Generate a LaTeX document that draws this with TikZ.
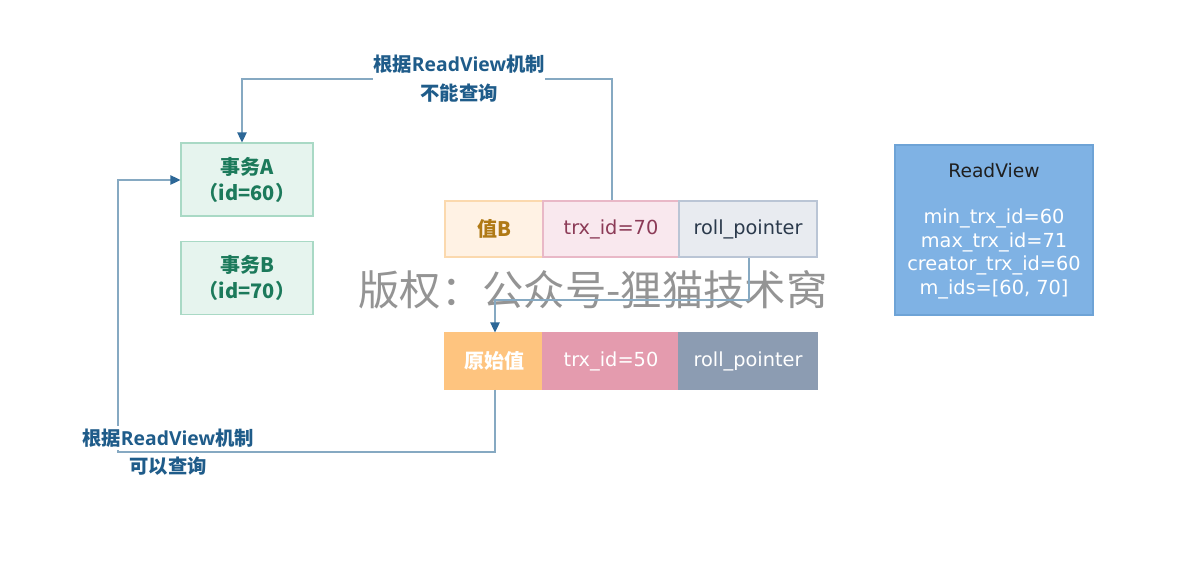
\documentclass[tikz,border=0pt]{standalone}
\usepackage{fontspec}
\setmainfont{DejaVu Sans}
\newfontfamily\osans{Open Sans}
\newfontfamily\cjk{Noto Sans CJK SC}
\usetikzlibrary{arrows.meta}
\definecolor{grnfill}{HTML}{E6F4EE}
\definecolor{grnline}{HTML}{A9D9C5}
\definecolor{grntext}{HTML}{1C7A5B}
\definecolor{orfill}{HTML}{FFF2E4}
\definecolor{orline}{HTML}{FBD9AE}
\definecolor{ortext}{HTML}{B07A16}
\definecolor{pkfill}{HTML}{F9E8EE}
\definecolor{pkline}{HTML}{E9B8C7}
\definecolor{pktext}{HTML}{8C3B57}
\definecolor{gyfill}{HTML}{E8EBF0}
\definecolor{gyline}{HTML}{BAC5D5}
\definecolor{gytext}{HTML}{2B3A4C}
\definecolor{or2}{HTML}{FEC47F}
\definecolor{pk2}{HTML}{E49BAE}
\definecolor{gy2}{HTML}{8C9CB2}
\definecolor{rvfill}{HTML}{7FB2E4}
\definecolor{rvline}{HTML}{6EA3D6}
\definecolor{conn}{HTML}{86A9C2}
\definecolor{tip}{HTML}{2C6797}
\definecolor{lbl}{HTML}{1F5C8A}
\tikzset{
  box/.style={draw, line width=0.8pt, minimum height=0.75pt*56, inner sep=0pt, font=\fontsize{14.5}{16}\selectfont},
  cjkbox/.style={font=\cjk\bfseries\fontsize{15}{16}\selectfont},
  txbox/.style={draw=grnline, fill=grnfill, line width=0.8pt, minimum width=0.75pt*132, minimum height=0.75pt*73, inner sep=0pt, align=center, text=grntext, font=\cjk\bfseries\fontsize{15}{19.5}\selectfont},
  conline/.style={draw=conn, line width=1pt, -{Triangle[length=7.5pt,width=7pt,fill=tip,color=tip]}},
  lbltext/.style={text=lbl, font=\cjk\bfseries\fontsize{14.5}{16}\selectfont, fill=white, inner xsep=0pt, inner ysep=2pt}
}
\newcommand{\rvlat}[1]{{\osans\bfseries #1}}
\begin{document}
\begin{tikzpicture}[x=0.75pt,y=-0.75pt]
\useasboundingbox (0,0) rectangle (1196,578);
\fill[white] (0,0) rectangle (1196,578);
% watermark
\node[text=black!42, font=\cjk\fontsize{31}{36}\selectfont, inner sep=0pt] (wm) at (593,290) {版权：公众号-狸猫技术窝};
% transaction boxes
\node[txbox] (ta) at (247,179.5) {事务A\\（id=60）};
\node[txbox] (tb) at (247,278) {事务B\\（id=70）};
% row 1
\node[box, cjkbox, draw=orline, fill=orfill, text=ortext, minimum width=0.75pt*98] (vb) at (494,229) {值B};
\node[box, draw=pkline, fill=pkfill, text=pktext, minimum width=0.75pt*136] (t70) at (611,229) {trx\_id=70};
\node[box, draw=gyline, fill=gyfill, text=gytext, minimum width=0.75pt*138] (rp1) at (748,229) {roll\_pointer};
% row 2
\node[box, cjkbox, draw=or2, fill=or2, text=white, minimum width=0.75pt*98] (orig) at (494,361) {原始值};
\node[box, draw=pk2, fill=pk2, text=white, minimum width=0.75pt*136] (t50) at (611,361) {trx\_id=50};
\node[box, draw=gy2, fill=gy2, text=white, minimum width=0.75pt*138] (rp2) at (748,361) {roll\_pointer};
% ReadView
\node[draw=rvline, fill=rvfill, line width=0.8pt, minimum width=0.75pt*198, minimum height=0.75pt*170, inner sep=0pt] (rv) at (994,230) {};
\node[font=\fontsize{14}{16}\selectfont, text=black!88] (rvt) at (994,171) {ReadView};
\node[font=\fontsize{14.5}{17.8}\selectfont, text=white, align=center] (rvb) at (994,254) {min\_trx\_id=60\\max\_trx\_id=71\\creator\_trx\_id=60\\m\_ids=[60, 70]};
% connectors
\coordinate (c1) at (612,79);
\coordinate (c2) at (242,79);
\draw[conline] (t70.north -| c1) -- (c1) -- (c2) -- (c2 |- ta.north);
\node[lbltext, inner ysep=5pt] (l1a) at (459,64) {根据\rvlat{ReadView}机制};
\node[lbltext, fill=none] (l1b) at (459,93) {不能查询};
\coordinate (c3) at (749,300);
\coordinate (c4) at (495,300);
\draw[conline] (rp1.south -| c3) -- (c3) -- (c4) -- (c4 |- orig.north);
\coordinate (c5) at (495,452);
\coordinate (c6) at (118,452);
\coordinate (c7) at (118,180);
\draw[conline] (orig.south -| c5) -- (c5) -- (c6) -- (c7) -- (ta.west |- c7);
\node[lbltext] (l2a) at (168,438) {根据\rvlat{ReadView}机制};
\node[lbltext, inner xsep=2pt] (l2b) at (168,466) {可以查询};
\end{tikzpicture}
\end{document}
